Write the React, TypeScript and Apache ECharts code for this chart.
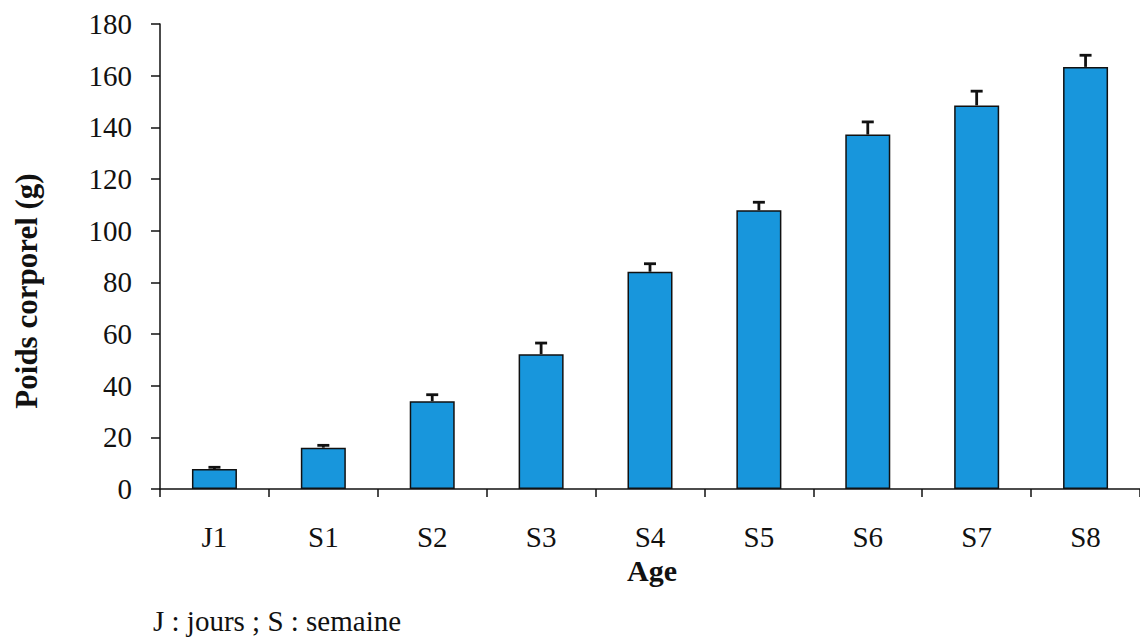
import React, { useEffect, useRef } from "react";
import * as echarts from "echarts";

const categories = ["J1", "S1", "S2", "S3", "S4", "S5", "S6", "S7", "S8"];
const means = [7.7, 16.0, 34.0, 52.2, 84.1, 107.9, 137.2, 148.5, 163.4];
const errors = [0.7, 0.9, 2.5, 4.3, 3.1, 3.1, 4.9, 5.5, 4.5];
const yTicks = { min: 0, max: 180, interval: 20 };
const yTitle = "Poids corporel (g)";
const xTitle = "Age";
const footnote = "J : jours ; S : semaine";

const FONT = "'Liberation Serif', 'Times New Roman', serif";

export default function App() {
  const ref = useRef<HTMLDivElement>(null);
  useEffect(() => {
    if (!ref.current) return;
    const chart = echarts.init(ref.current, null, { renderer: "svg" });
    const errData = means.map((m, i) => [i, m, m + errors[i]]);
    chart.setOption({
      animation: false,
      backgroundColor: "#ffffff",
      grid: { left: 160, top: 24, width: 990, height: 465 },
      xAxis: {
        type: "category",
        data: categories,
        axisLine: { lineStyle: { color: "#111", width: 1.5 } },
        axisTick: { show: true, length: 8, lineStyle: { color: "#111", width: 1.5 } },
        axisLabel: { color: "#111", fontSize: 29, fontFamily: FONT, margin: 33, lineHeight: 29 },
      },
      yAxis: {
        type: "value",
        min: yTicks.min,
        max: yTicks.max,
        interval: yTicks.interval,
        splitLine: { show: false },
        axisLine: { show: true, lineStyle: { color: "#111", width: 1.5 } },
        axisTick: { show: true, length: 9, lineStyle: { color: "#111", width: 1.5 } },
        axisLabel: { color: "#111", fontSize: 29, fontFamily: FONT, margin: 28 },
      },
      series: [
        {
          type: "bar",
          data: means,
          barWidth: 45,
          itemStyle: { color: "#1896DC", borderColor: "#111", borderWidth: 1.5 },
          z: 2,
        },
        {
          type: "custom",
          data: errData,
          z: 3,
          renderItem: (params: any, api: any) => {
            const i = api.value(0);
            const lo = api.coord([i, api.value(1)]);
            const hi = api.coord([i, api.value(2)]);
            const half = 6;
            const style = { stroke: "#111", lineWidth: 2.8 };
            return {
              type: "group",
              children: [
                { type: "line", shape: { x1: lo[0], y1: lo[1], x2: hi[0], y2: hi[1] }, style },
                { type: "line", shape: { x1: hi[0] - half, y1: hi[1], x2: hi[0] + half, y2: hi[1] }, style },
              ],
            };
          },
        },
      ],
      graphic: [
        {
          type: "text",
          x: 26,
          y: 291,
          rotation: Math.PI / 2,
          style: {
            text: yTitle,
            fontFamily: FONT,
            fontSize: 31,
            fontWeight: "bold",
            fill: "#111",
            textAlign: "center",
            textVerticalAlign: "middle",
          },
        },
        {
          type: "text",
          x: 652,
          y: 570,
          style: {
            text: xTitle,
            fontFamily: FONT,
            fontSize: 30,
            fontWeight: "bold",
            fill: "#111",
            textAlign: "center",
            textVerticalAlign: "middle",
          },
        },
        {
          type: "text",
          x: 153,
          y: 621,
          style: {
            text: footnote,
            fontFamily: FONT,
            fontSize: 29,
            fill: "#111",
            textAlign: "left",
            textVerticalAlign: "middle",
          },
        },
      ],
    });
    return () => chart.dispose();
  }, []);
  return (
    <div
      ref={ref}
      style={{ position: "fixed", left: 0, top: 0, width: 1140, height: 638, background: "#fff" }}
    />
  );
}
